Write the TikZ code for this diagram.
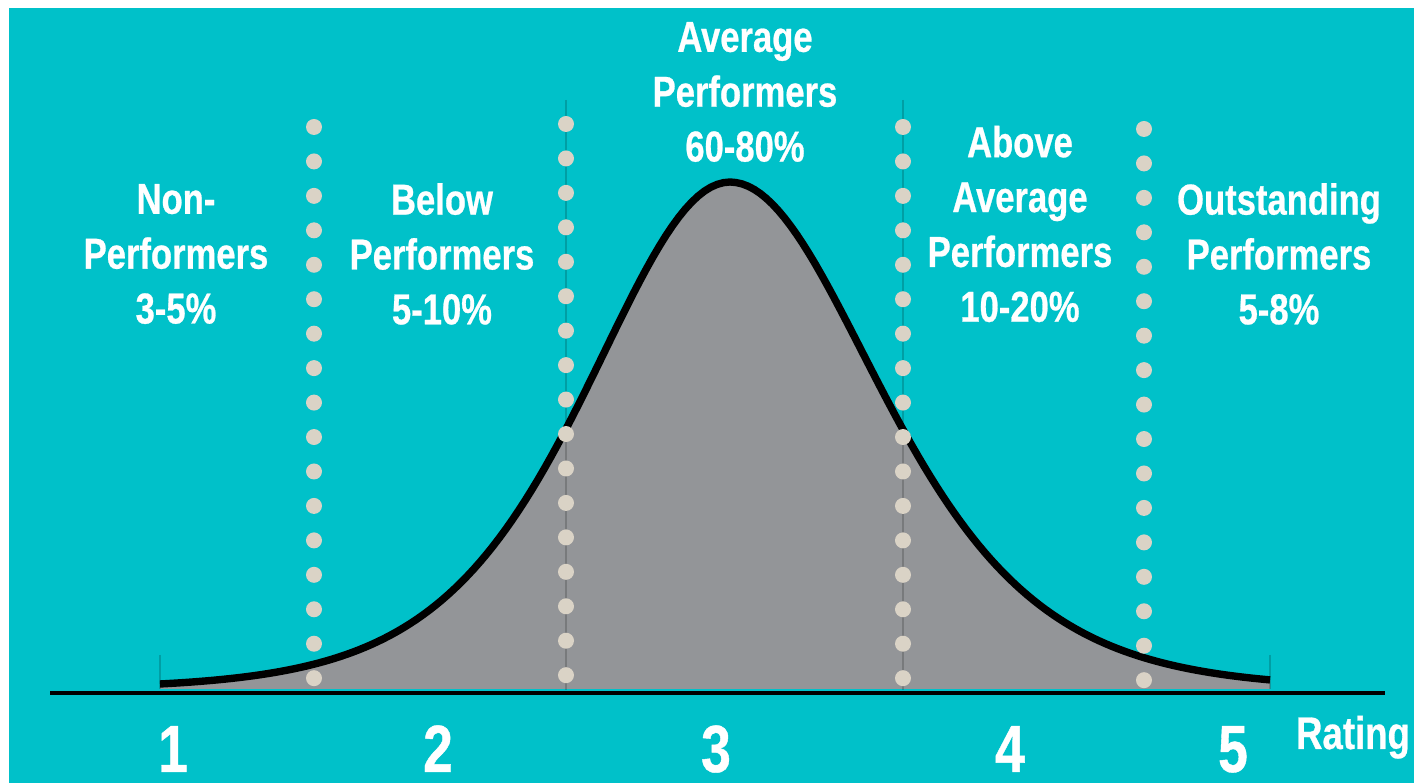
\documentclass[tikz,border=0pt]{standalone}
\usepackage{fontspec}
\newfontfamily\labelfont[FakeStretch=0.8, FakeBold=0.6]{Liberation Sans}
\usetikzlibrary{calc}

\definecolor{bgteal}{RGB}{0,193,201}
\definecolor{bellgray}{RGB}{147,149,152}
\definecolor{dotbeige}{RGB}{218,211,198}

\begin{document}
\begin{tikzpicture}[x=0.01cm, y=-0.01cm,
  label/.style={text=white, align=center, inner sep=0pt,
    font=\labelfont\bfseries\fontsize{12.3}{15.6}\selectfont},
  rating/.style={text=white, inner sep=0pt, anchor=base,
    font=\labelfont\bfseries\fontsize{19}{22}\selectfont},
  guide/.style={black, opacity=0.18, line width=0.4pt}]

% canvas
\useasboundingbox (0,0) rectangle (1414,783);
\fill[white] (0,0) rectangle (1414,783);
\fill[bgteal] (9,8) rectangle (1414,783);

% bell curve
\fill[bellgray] (160,689)
  -- plot[domain=160:730, samples=90] (\x, {689-507/(cosh((\x-730)/190))^2})
  -- plot[domain=730:1270, samples=90] (\x, {689-507/(cosh((\x-730)/200))^2})
  -- (1270,689) -- cycle;
\draw[line width=2.1pt]
  plot[domain=160:730, samples=90] (\x, {689-507/(cosh((\x-730)/190))^2})
  -- plot[domain=730:1270, samples=90] (\x, {689-507/(cosh((\x-730)/200))^2});

% faint guides
\draw[guide] (566,100) -- (566,690);
\draw[guide] (903,100) -- (903,690);
\draw[guide] (160,655) -- (160,689);
\draw[guide] (1270,655) -- (1270,689);

% axis
\coordinate (axl) at (50,693);
\coordinate (axr) at (1385,693);
\draw[line width=1pt] (axl) -- (axr);

% dotted separators
\foreach \x/\y in {314/127, 566/124, 903/127, 1144/129}
  \foreach \i in {0,...,16}
    \fill[dotbeige] (\x, \y+34.45*\i) circle (8);

% group labels
\node[label] (non) at (176,254) {Non-\\Performers\\3-5\%};
\node[label] (below) at (442,254) {Below\\Performers\\5-10\%};
\node[label] (avg) at (745,92) {Average\\Performers\\60-80\%};
\node[label] (above) at (1020,224) {Above\\Average\\Performers\\10-20\%};
\node[label] (outst) at (1279,254) {Outstanding\\Performers\\5-8\%};

% ratings
\node[rating] (r1) at (173,772) {1};
\node[rating] (r2) at (438,772) {2};
\node[rating] (r3) at (716,772) {3};
\node[rating] (r4) at (1010,772) {4};
\node[rating] (r5) at (1233,772) {5};
\node[rating, font=\labelfont\bfseries\fontsize{13}{15}\selectfont] (rtg) at (1353,749) {Rating};

\end{tikzpicture}
\end{document}
